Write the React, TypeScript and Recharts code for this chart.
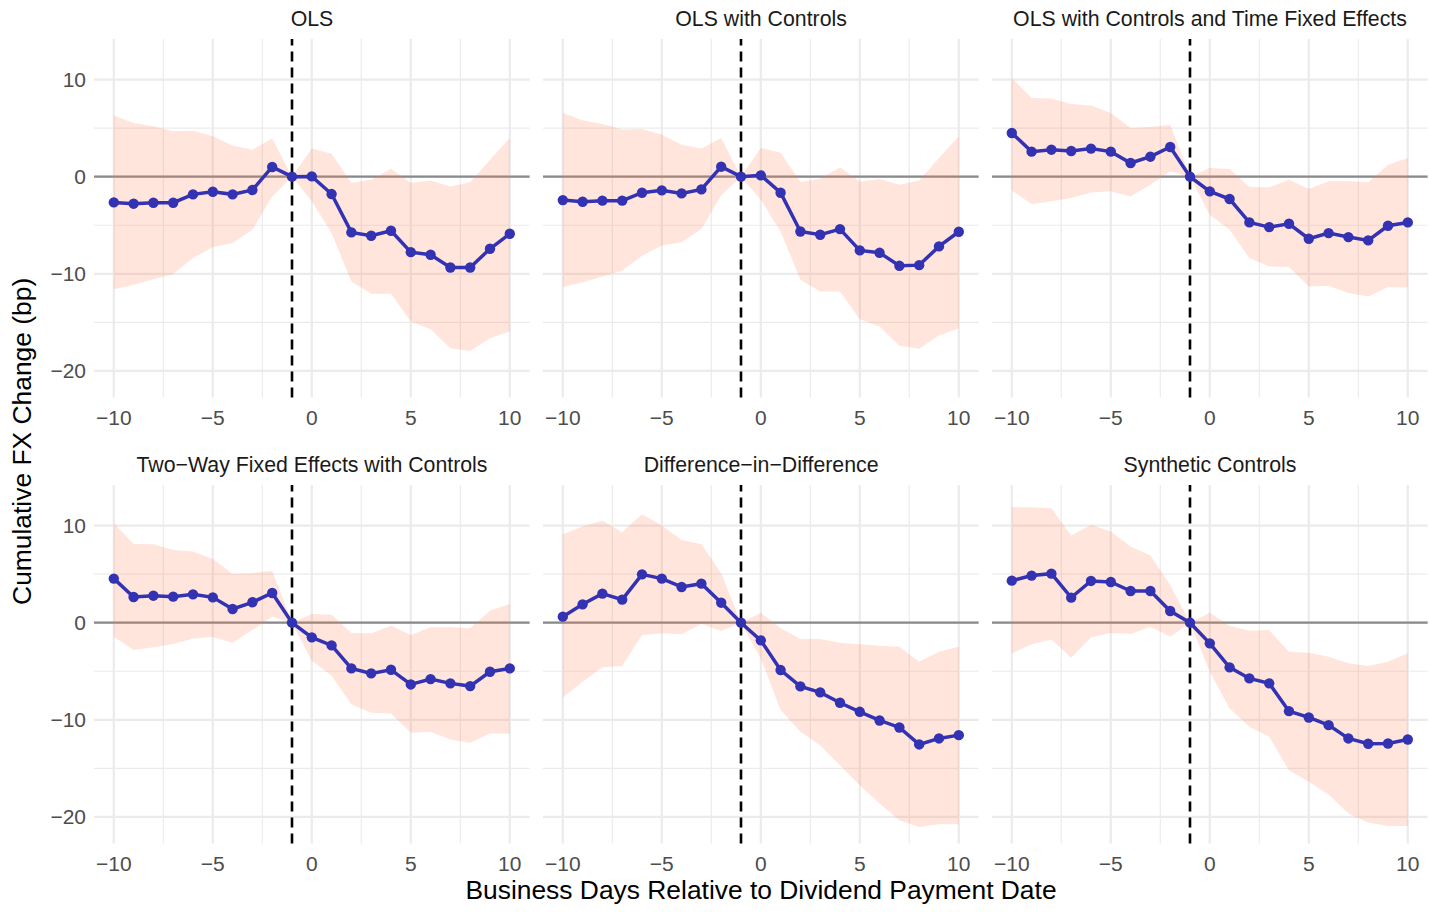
import React from 'react';
import { ComposedChart, Area, Line, XAxis, YAxis, ReferenceLine } from 'recharts';

const FONT = '"Liberation Sans", Arial, Helvetica, sans-serif';

// ---- data ----
const days = [-10, -9, -8, -7, -6, -5, -4, -3, -2, -1, 0, 1, 2, 3, 4, 5, 6, 7, 8, 9, 10];

const olsEst = [-2.65, -2.78, -2.68, -2.68, -1.82, -1.55, -1.82, -1.37, 1.0, 0, 0.03, -1.79, -5.74, -6.08, -5.57, -7.77, -8.04, -9.35, -9.35, -7.42, -5.88];
const olsHi = [6.29, 5.53, 5.19, 4.67, 4.74, 4.16, 3.2, 2.78, 3.92, 0, 2.89, 2.37, -0.65, -0.31, 0.82, -0.65, -0.38, -1.0, -0.58, 1.75, 3.99];
const olsLo = [-11.58, -11.13, -10.55, -10.03, -8.38, -7.25, -6.84, -5.46, -2.03, 0, -2.54, -5.81, -10.79, -12.06, -12.06, -14.91, -15.7, -17.66, -17.94, -16.63, -15.95];

const ctrlEst = [-2.41, -2.58, -2.47, -2.47, -1.65, -1.41, -1.72, -1.31, 1.03, 0, 0.14, -1.65, -5.64, -5.98, -5.4, -7.59, -7.84, -9.18, -9.11, -7.18, -5.67];
const ctrlHi = [6.56, 5.81, 5.43, 4.85, 4.91, 4.33, 3.3, 2.89, 3.99, 0, 2.96, 2.47, -0.55, -0.21, 0.96, -0.52, -0.24, -0.82, -0.38, 1.92, 4.16];
const ctrlLo = [-11.37, -10.86, -10.27, -9.69, -8.14, -7.08, -6.74, -5.4, -1.92, 0, -2.37, -5.64, -10.62, -11.82, -11.82, -14.67, -15.43, -17.42, -17.73, -16.36, -15.6];

const tfeEst = [4.5, 2.58, 2.78, 2.65, 2.89, 2.58, 1.41, 2.06, 3.06, 0, -1.51, -2.3, -4.71, -5.19, -4.85, -6.39, -5.81, -6.22, -6.56, -5.05, -4.71];
const tfeHi = [10.17, 8.11, 8.04, 7.49, 7.32, 6.56, 5.02, 5.12, 5.36, 0, 0.89, 0.79, -1.07, -1.1, -0.31, -1.27, -0.48, -0.48, -0.58, 1.24, 1.92];
const tfeLo = [-1.44, -2.82, -2.54, -2.2, -1.62, -1.51, -2.03, -0.82, 0.55, 0, -3.92, -5.46, -8.38, -9.24, -9.31, -11.31, -11.24, -11.99, -12.34, -11.37, -11.41];

const twfeEst = [4.54, 2.65, 2.78, 2.68, 2.92, 2.61, 1.41, 2.1, 3.06, 0, -1.51, -2.34, -4.71, -5.22, -4.85, -6.36, -5.81, -6.25, -6.53, -5.05, -4.71];
const twfeHi = [10.24, 8.11, 8.08, 7.49, 7.32, 6.56, 5.02, 5.09, 5.36, 0, 0.89, 0.82, -1.07, -1.1, -0.31, -1.27, -0.48, -0.48, -0.58, 1.24, 1.92];
const twfeLo = [-1.44, -2.82, -2.54, -2.2, -1.62, -1.48, -2.06, -0.76, 0.62, 0, -3.92, -5.46, -8.42, -9.28, -9.35, -11.34, -11.24, -12.03, -12.37, -11.41, -11.41];

const didEst = [0.62, 1.89, 2.99, 2.37, 4.98, 4.54, 3.68, 4.02, 2.06, 0, -1.82, -4.88, -6.56, -7.18, -8.25, -9.18, -10.07, -10.79, -12.54, -11.92, -11.58];
const didHi = [9.11, 9.9, 10.52, 9.31, 11.17, 10.0, 8.52, 8.08, 5.09, 0, 1.03, -0.58, -1.68, -1.68, -2.06, -2.23, -2.37, -2.47, -4.02, -2.99, -2.47];
const didLo = [-7.7, -6.08, -4.6, -4.47, -1.27, -1.1, -1.2, -0.14, -0.86, 0, -3.68, -9.0, -11.24, -12.61, -14.67, -16.74, -18.63, -20.34, -21.03, -20.76, -20.76];

const scEst = [4.33, 4.85, 5.05, 2.58, 4.3, 4.19, 3.26, 3.26, 1.2, 0, -2.13, -4.6, -5.74, -6.25, -9.11, -9.76, -10.55, -11.92, -12.47, -12.44, -12.03];
const scHi = [11.89, 11.89, 11.79, 8.97, 10.07, 9.38, 7.84, 6.91, 3.88, 0, 1.03, -0.34, -0.82, -0.76, -2.99, -3.09, -3.51, -4.19, -4.47, -4.02, -3.16];
const scLo = [-3.16, -2.23, -1.72, -3.61, -1.51, -1.07, -1.17, -0.41, -1.44, 0, -5.05, -8.83, -10.72, -11.75, -15.19, -16.39, -17.7, -19.66, -20.58, -20.93, -20.93];

const titles = [
  'OLS',
  'OLS with Controls',
  'OLS with Controls and Time Fixed Effects',
  'Two\u2212Way Fixed Effects with Controls',
  'Difference\u2212in\u2212Difference',
  'Synthetic Controls',
];

const xTicks = [-10, -5, 0, 5, 10];
const xMinor = [-7.5, -2.5, 2.5, 7.5];
const yTicks = [-20, -10, 0, 10];
const yMinor = [-15, -5, 5];
const eventLine = -1;

const panels = [
  { title: titles[0], est: olsEst, lo: olsLo, hi: olsHi },
  { title: titles[1], est: ctrlEst, lo: ctrlLo, hi: ctrlHi },
  { title: titles[2], est: tfeEst, lo: tfeLo, hi: tfeHi },
  { title: titles[3], est: twfeEst, lo: twfeLo, hi: twfeHi },
  { title: titles[4], est: didEst, lo: didLo, hi: didHi },
  { title: titles[5], est: scEst, lo: scLo, hi: scHi },
];

// ---- layout ----
const PLOT_LEFT = [94.2, 543.3, 992.2];
const PLOT_TOP = [39.3, 485];
const PLOT_W = 435.6;
const PLOT_H = 358.4;
const Y_AXIS_W = 80;
const X_AXIS_H = 40;
const Y_DOMAIN: [number, number] = [-22.73, 14.18];
const X_DOMAIN: [number, number] = [-11, 11];

const LINE_COLOR = '#3232B2';
const RIBBON = '#FF7F50';
const GRID = '#EBEBEB';

const fmt = (v: number) => (v < 0 ? `\u2212${Math.abs(v)}` : `${v}`);
const tickStyle = { fill: '#4D4D4D', fontSize: 21, fontFamily: FONT };

function Panel({ p, col, row }: { p: any; col: number; row: number }) {
  const data = days.map((d, i) => ({ day: d, est: p.est[i], band: [p.lo[i], p.hi[i]] }));
  const showY = col === 0;
  const w = PLOT_W + (showY ? Y_AXIS_W : 0);
  const h = PLOT_H + X_AXIS_H;
  return (
    <div style={{ position: 'absolute', left: PLOT_LEFT[col] - (showY ? Y_AXIS_W : 0), top: PLOT_TOP[row] }}>
      <ComposedChart width={w} height={h} data={data} margin={{ top: 0, right: 0, bottom: 0, left: 0 }}>
        <XAxis
          dataKey="day"
          type="number"
          domain={X_DOMAIN}
          ticks={xTicks}
          interval={0}
          allowDataOverflow
          axisLine={false}
          tickLine={false}
          tickMargin={7}
          height={X_AXIS_H}
          tick={tickStyle}
          tickFormatter={fmt}
        />
        <YAxis
          type="number"
          domain={Y_DOMAIN}
          ticks={yTicks}
          interval={0}
          allowDataOverflow
          hide={!showY}
          width={Y_AXIS_W}
          axisLine={false}
          tickLine={false}
          tick={tickStyle}
          tickFormatter={fmt}
        />
        {yMinor.map((v) => (
          <ReferenceLine key={'ym' + v} y={v} stroke={GRID} strokeWidth={1.2} zIndex={-100} />
        ))}
        {xMinor.map((v) => (
          <ReferenceLine key={'xm' + v} x={v} stroke={GRID} strokeWidth={1.2} zIndex={-100} />
        ))}
        {yTicks.map((v) => (
          <ReferenceLine key={'yM' + v} y={v} stroke={GRID} strokeWidth={2.2} zIndex={-100} />
        ))}
        {xTicks.map((v) => (
          <ReferenceLine key={'xM' + v} x={v} stroke={GRID} strokeWidth={2.2} zIndex={-100} />
        ))}
        <ReferenceLine y={0} stroke="#8A8A8A" strokeWidth={2.2} zIndex={50} />
        <Area
          dataKey="band"
          type="linear"
          stroke="none"
          fill={RIBBON}
          fillOpacity={0.2}
          dot={false}
          activeDot={false}
          isAnimationActive={false}
        />
        <ReferenceLine x={eventLine} stroke="#000000" strokeWidth={2.6} strokeDasharray="10 6" zIndex={150} />
        <Line
          dataKey="est"
          type="linear"
          stroke={LINE_COLOR}
          strokeWidth={3.5}
          dot={{ r: 5.2, fill: LINE_COLOR, stroke: 'none', strokeWidth: 0 }}
          activeDot={false}
          isAnimationActive={false}
        />
      </ComposedChart>
    </div>
  );
}

export default function App() {
  const centerX = (PLOT_LEFT[0] + PLOT_LEFT[2] + PLOT_W) / 2;
  const centerY = (PLOT_TOP[0] + PLOT_TOP[1] + PLOT_H) / 2;
  return (
    <div
      style={{
        position: 'absolute',
        left: 0,
        top: 0,
        width: 1429,
        height: 912,
        background: '#ffffff',
        overflow: 'hidden',
        fontFamily: FONT,
      }}
    >
      {panels.map((p, i) => (
        <Panel key={i} p={p} col={i % 3} row={Math.floor(i / 3)} />
      ))}
      <svg
        width={1429}
        height={912}
        style={{ position: 'absolute', left: 0, top: 0, pointerEvents: 'none' }}
      >
        {panels.map((p, i) => {
          const col = i % 3;
          const row = Math.floor(i / 3);
          return (
            <text
              key={i}
              x={PLOT_LEFT[col] + PLOT_W / 2}
              y={PLOT_TOP[row] - 13.3}
              textAnchor="middle"
              fontSize={21.3}
              fontFamily={FONT}
              fill="#1A1A1A"
            >
              {p.title}
            </text>
          );
        })}
        <text x={centerX} y={899} textAnchor="middle" fontSize={26.4} fontFamily={FONT} fill="#000000">
          Business Days Relative to Dividend Payment Date
        </text>
        <text
          x={31.5}
          y={centerY}
          textAnchor="middle"
          fontSize={26.4}
          fontFamily={FONT}
          fill="#000000"
          transform={`rotate(-90, 31.5, ${centerY})`}
        >
          Cumulative FX Change (bp)
        </text>
      </svg>
    </div>
  );
}
